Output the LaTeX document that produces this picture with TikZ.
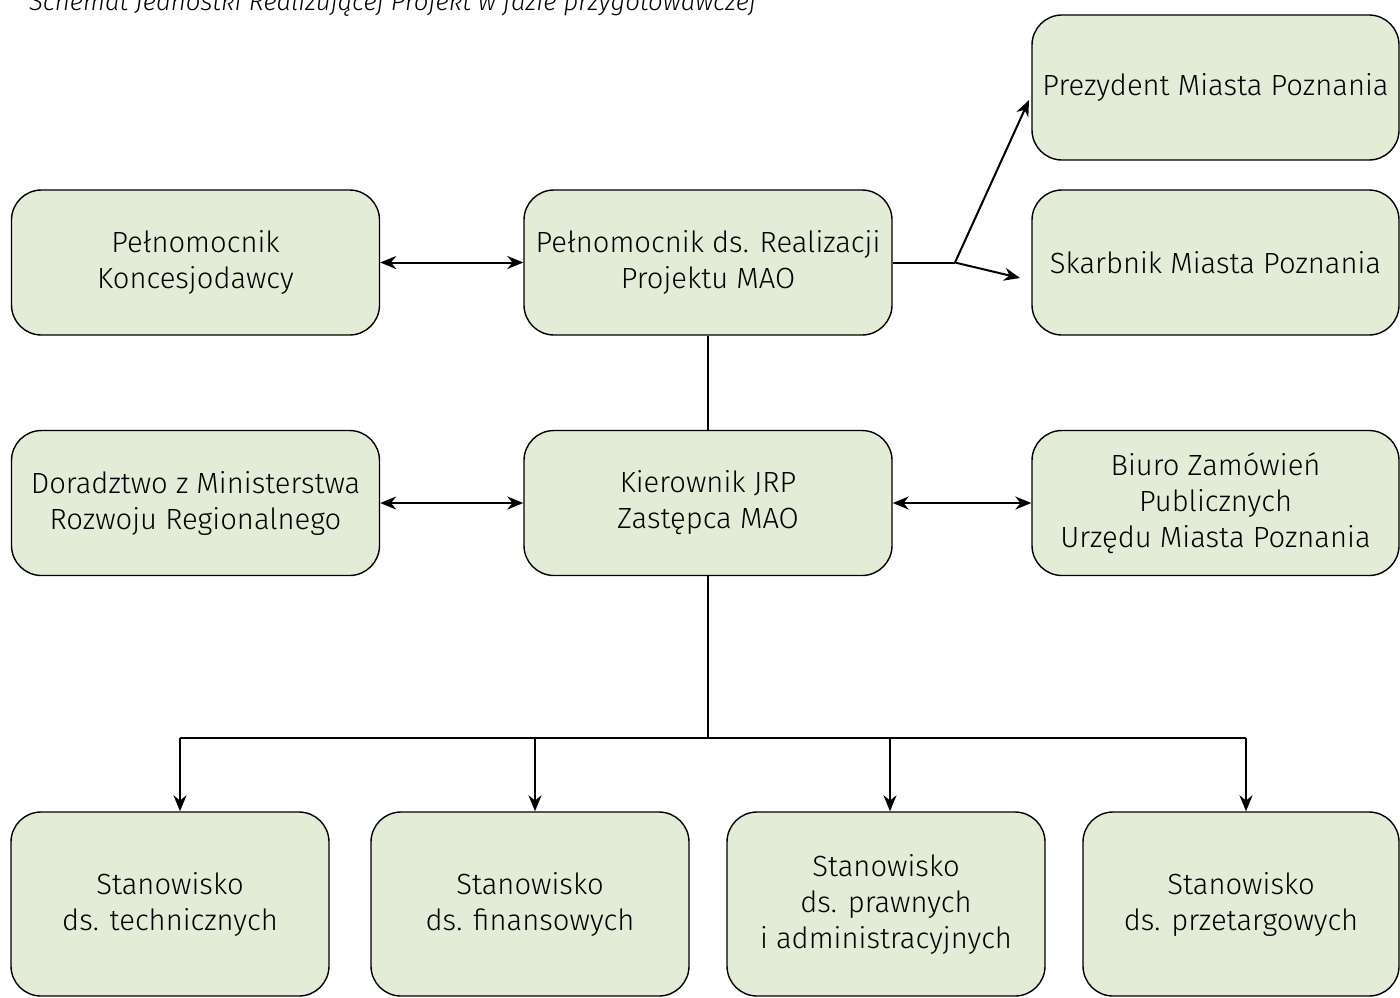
\documentclass[tikz,border=0pt]{standalone}
\usepackage{fontspec}
\setmainfont{Fira Sans}[UprightFont=* Light, ItalicFont=* Light Italic]
\usetikzlibrary{arrows.meta}
\definecolor{boxgreen}{RGB}{226,236,214}
\tikzset{
  unit/.style={draw=black, line width=0.7pt, fill=boxgreen, rounded corners=15pt,
    align=center, inner sep=2pt, minimum width=184pt, minimum height=72.5pt,
    font=\fontsize{14.6}{18}\selectfont},
  post/.style={unit, minimum width=159pt, minimum height=92pt},
  wire/.style={line width=1pt},
  link/.style={wire, -{Stealth[length=8pt,width=6.5pt]}},
  both/.style={wire, {Stealth[length=8pt,width=6.5pt]}-{Stealth[length=8pt,width=6.5pt]}},
}

\begin{document}
\begin{tikzpicture}[x=0.5pt, y=-0.5pt]
  \useasboundingbox (0,0) rectangle (1400,997);
  \node[anchor=base west, font=\fontsize{12.9}{15}\selectfont\itshape] (title) at (22,10)
    {Schemat Jednostki Realizującej Projekt w fazie przygotowawczej};

  % gorny poziom
  \node[unit, minimum width=183.5pt] (prezydent) at (1215.5,87.5) {Prezydent Miasta Poznania};
  \node[unit, minimum width=183.5pt] (skarbnik) at (1215.5,262.5) {Skarbnik Miasta Poznania};
  \node[unit] (koncesj) at (195.5,262.5) {Pełnomocnik\\Koncesjodawcy};
  \node[unit] (pelnom) at (708,262.5) {Pełnomocnik ds. Realizacji\\Projektu MAO};

  % srodkowy poziom
  \node[unit] (doradztwo) at (195.5,503) {Doradztwo z Ministerstwa\\Rozwoju Regionalnego};
  \node[unit] (kierownik) at (708,503) {Kierownik JRP\\Zastępca MAO};
  \node[unit, minimum width=183.5pt] (biuro) at (1215.5,503) {Biuro Zamówień\\Publicznych\\Urzędu Miasta Poznania};

  % stanowiska
  \node[post] (techn) at (170,904) {Stanowisko\\ds. technicznych};
  \node[post] (finans) at (530,904) {Stanowisko\\ds. finansowych};
  \node[post] (prawne) at (886,904) {Stanowisko\\ds. prawnych\\i administracyjnych};
  \node[post, minimum width=158pt] (przetarg) at (1241,904) {Stanowisko\\ds. przetargowych};

  \draw[both] (koncesj) -- (pelnom);
  \draw[both] (doradztwo) -- (kierownik);
  \draw[both] (kierownik) -- (biuro);
  \draw[wire] (pelnom) -- (kierownik);

  \coordinate (fork) at (955,262.5);
  \coordinate (toprez) at (1029,100);
  \coordinate (toskarb) at (1020,278);
  \draw[wire] (pelnom.east) -- (fork);
  \draw[link] (fork) -- (toprez);
  \draw[link] (fork) -- (toskarb);

  \coordinate (bus) at (708,738);
  \draw[wire] (kierownik) -- (bus);
  \foreach \x/\n in {180/techn, 535/finans, 890/prawne, 1246/przetarg} {
    \coordinate (drop-\n) at (\x,738);
    \draw[link] (drop-\n) -- (drop-\n |- \n.north);
  }
  \draw[wire] (drop-techn) -- (drop-przetarg);
\end{tikzpicture}
\end{document}
